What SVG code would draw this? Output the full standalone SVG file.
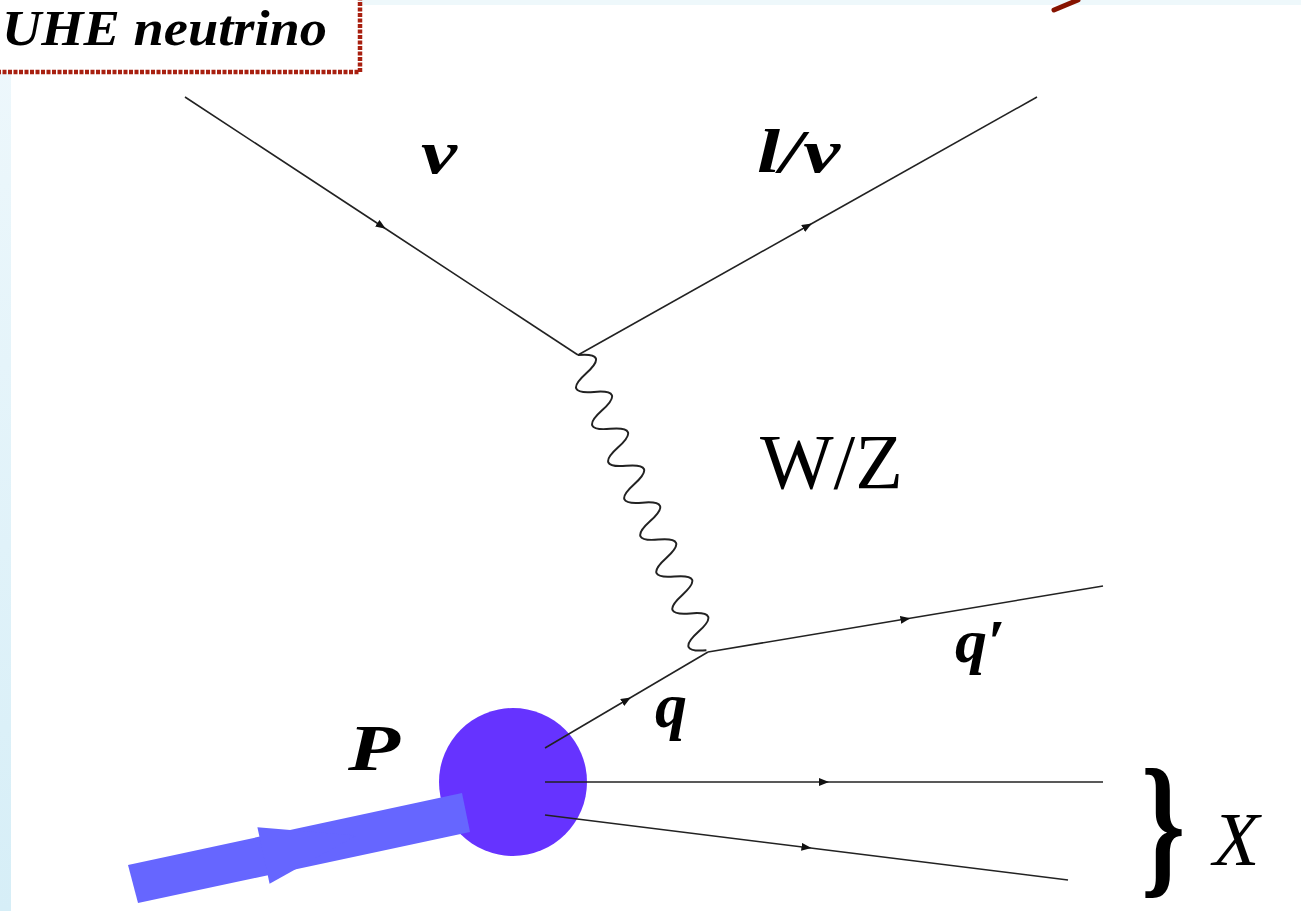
<svg xmlns="http://www.w3.org/2000/svg" width="1301" height="911" viewBox="0 0 1301 911">
  <defs>
    <linearGradient id="sideGrad" x1="0" y1="0" x2="0" y2="1">
      <stop offset="0" stop-color="#eff8fc"/>
      <stop offset="1" stop-color="#d6eef7"/>
    </linearGradient>
    <marker id="arr" viewBox="0 0 10 8" refX="5" refY="4" markerWidth="10" markerHeight="8" markerUnits="userSpaceOnUse" orient="auto">
      <path d="M0,0 L10,4 L0,8 Z" fill="#111"/>
    </marker>
    <style>
      .line { fill: none; stroke: #222; stroke-width: 1.6; marker-mid: url(#arr); }
      .lbl { font-family: "Liberation Serif", "DejaVu Serif", serif; fill: #000; }
      .bi { font-style: italic; font-weight: bold; }
    </style>
  </defs>

  <rect x="0" y="0" width="1301" height="911" fill="#ffffff"/>
  <rect x="0" y="0" width="1301" height="5" fill="#eef8fb"/>
  <rect x="0" y="0" width="11" height="911" fill="url(#sideGrad)"/>

  <g id="title">
    <rect x="-6" y="-6" width="366" height="78" fill="#ffffff" stroke="#a82010" stroke-width="4.5" stroke-dasharray="4 1.5"/>
    <text class="lbl bi" x="2" y="45" font-size="50" textLength="325" lengthAdjust="spacingAndGlyphs">UHE neutrino</text>
  </g>
  <line x1="1054" y1="10" x2="1078" y2="0" stroke="#861300" stroke-width="5" stroke-linecap="round"/>

  <g id="connectors">
    <polyline class="line" points="185,97 381.5,226 578,355"/>
    <polyline class="line" points="578,355 807.5,226 1037,97"/>
    <g transform="translate(578,355) rotate(66.5)">
      <path fill="none" stroke="#222" stroke-width="2" d="M0,0 q10.06,-30 20.125,0 t20.125,0 t20.125,0 t20.125,0 t20.125,0 t20.125,0 t20.125,0 t20.125,0 t20.125,0 t20.125,0 t20.125,0 t20.125,0 t20.125,0 t20.125,0 t20.125,0 t20.125,0"/>
    </g>
    <polyline class="line" points="708,652 905.5,619 1103,586"/>
  </g>

  <g id="proton">
    <circle cx="513" cy="782" r="74" fill="#6633ff"/>
    <polygon points="128,865 462,793 470,832 138,903" fill="#6666ff"/>
    <polygon points="257.4,827.2 356,835.5 269.6,883.8" fill="#6666ff"/>
  </g>

  <g id="outgoing">
    <polyline class="line" points="545,748 626.5,700 708,652"/>
    <polyline class="line" points="545,782 824,782 1103,782"/>
    <polyline class="line" points="545,815 806.5,847.5 1068,880"/>
  </g>

  <g id="labels">
    <text class="lbl bi" x="421" y="173" font-size="62" textLength="36" lengthAdjust="spacingAndGlyphs">ν</text>
    <text class="lbl bi" x="757" y="172" font-size="62" textLength="83" lengthAdjust="spacingAndGlyphs">l/ν</text>
    <text class="lbl" x="760" y="488" font-size="78">W/Z</text>
    <text class="lbl bi" x="955" y="662" font-size="62" textLength="50" lengthAdjust="spacingAndGlyphs">q′</text>
    <text class="lbl bi" x="655" y="727" font-size="64">q</text>
    <text class="lbl bi" x="348" y="770" font-size="66" textLength="52" lengthAdjust="spacingAndGlyphs">P</text>
    <text class="lbl" font-size="156" font-weight="bold" transform="translate(1141,877) scale(0.72,1)">}</text>
    <text class="lbl" x="1213" y="865" font-size="76" font-style="italic">X</text>
  </g>
</svg>
